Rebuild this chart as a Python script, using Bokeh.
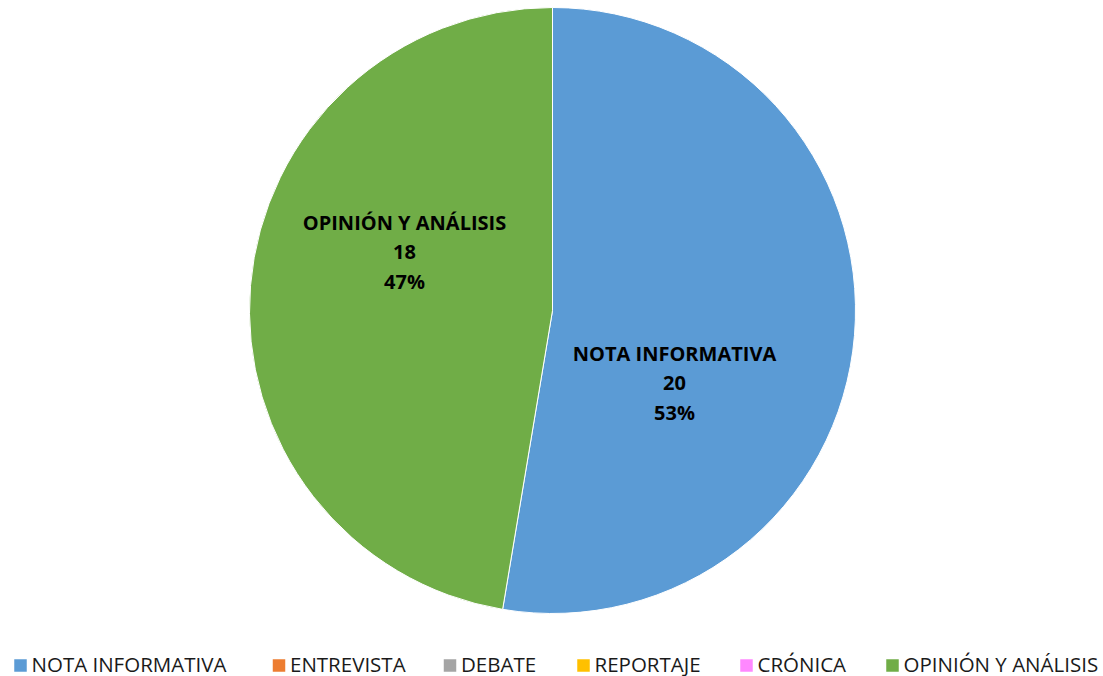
from math import pi
from bokeh.plotting import figure
from bokeh.models import Range1d, ColumnDataSource
from bokeh.core.properties import value
from bokeh.embed import file_html
from bokeh.resources import INLINE

# ---- data ----
categories = ["NOTA INFORMATIVA", "ENTREVISTA", "DEBATE", "REPORTAJE", "CRÓNICA", "OPINIÓN Y ANÁLISIS"]
counts = [20, 0, 0, 0, 0, 18]
colors = ["#5B9BD5", "#ED7D31", "#A5A5A5", "#FFC000", "#FF88FF", "#70AD47"]

# ---- layout (screen px) ----
W, H = 1103, 676
def sx(x):
    return x
def sy(y):
    return H - y

CX, CY, R = 552, 310, 303
FONT = "Open Sans"

p = figure(width=W, height=H, output_backend="svg", toolbar_location=None,
           x_range=Range1d(0, W), y_range=Range1d(0, H),
           x_axis_location=None, y_axis_location=None, min_border=0)
p.outline_line_color = None
p.grid.visible = False
p.background_fill_color = "white"

total = sum(counts)
starts, ends, wcols = [], [], []
a = pi / 2
for c, col in zip(counts, colors):
    frac = c / total
    if c > 0:
        starts.append(a - frac * 2 * pi)
        ends.append(a)
        wcols.append(col)
    a -= frac * 2 * pi

src = ColumnDataSource(dict(start=starts, end=ends, color=wcols))
p.wedge(x=sx(CX), y=sy(CY), radius=R, start_angle="start", end_angle="end",
        fill_color="color", line_color="white", line_width=1, source=src)

# data labels
label_pos = {"NOTA INFORMATIVA": (674, 382), "OPINIÓN Y ANÁLISIS": (404, 251)}
lx, ly, lt = [], [], []
for cat, c in zip(categories, counts):
    if c == 0:
        continue
    x, y = label_pos[cat]
    pct = f"{round(100 * c / total)}%"
    for i, t in enumerate([cat, str(c), pct]):
        lx.append(sx(x))
        ly.append(sy(y + (i - 1) * 29.5))
        lt.append(t)
p.text(x=lx, y=ly, text=lt, text_align="center", text_baseline="middle",
       text_font=value(FONT), text_font_style="bold", text_font_size="20px",
       text_color="black")

# legend
leg_sq_x = [20, 278.5, 449.5, 583, 746, 892]
leg_y = 663
p.rect(x=[sx(v) for v in leg_sq_x], y=[sy(leg_y + 2)] * len(leg_sq_x), width=12.5, height=12.5,
       fill_color=colors, line_color=None)
p.text(x=[sx(v + 11) for v in leg_sq_x], y=[sy(leg_y)] * len(leg_sq_x), text=categories,
       text_align="left", text_baseline="middle", text_font=value(FONT),
       text_font_size="20.5px", text_color="#1a1a1a")

open("out.html", "w").write(file_html(p, INLINE))
